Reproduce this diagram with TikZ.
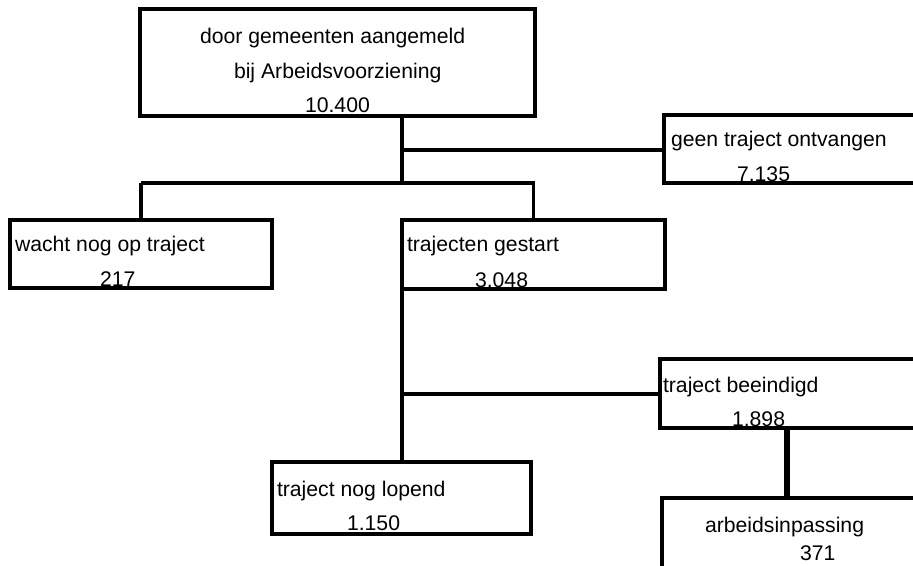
\documentclass[tikz,border=0pt]{standalone}
\usepackage{fontspec}
\setmainfont{Liberation Sans}
\newlength{\du}
\setlength{\du}{0.75pt}
\tikzset{
  box/.style={draw=black, line width=2.4pt, fill=white, outer sep=0pt, inner sep=0pt},
  heavy/.style={draw=black, line width=3.6pt},
  conn/.style={draw=black, line width=2.4pt},
  lbl/.style={inner sep=0pt, outer sep=0pt, anchor=base west, font=\fontsize{15.9}{19}\selectfont}
}

\begin{document}
\begin{tikzpicture}
\pgftransformxscale{1.000000}
\pgftransformyscale{-1.000000}
\clip (0\du,0\du) rectangle (913\du,566\du);
\fill[white] (0\du,0\du) rectangle (913\du,566\du);
% boxes
\node[box, minimum width=395\du, minimum height=107\du] (aangemeld) at (337.5\du,62.5\du) {};
\node[box, minimum width=336\du, minimum height=68\du] (geen) at (832\du,149\du) {};
\node[box, minimum width=262\du, minimum height=68\du] (wacht) at (141\du,254\du) {};
\node[box, minimum width=263\du, minimum height=69\du] (gestart) at (533.5\du,254.5\du) {};
\node[box, minimum width=340\du, minimum height=69\du] (beeindigd) at (830\du,393.5\du) {};
\node[box, minimum width=259\du, minimum height=72\du] (lopend) at (401.5\du,498\du) {};
\node[box, minimum width=338\du, minimum height=102\du] (inpassing) at (831\du,549\du) {};
% heavier sides
\draw[heavy] (aangemeld.north west)--(aangemeld.south west)--(aangemeld.south east);
\draw[heavy] (geen.south east)--(geen.south west)--(geen.north west)--(geen.north east);
\draw[heavy] (wacht.north west)--(wacht.south west)--(wacht.south east)--(wacht.north east);
\draw[heavy] (gestart.north west)--(gestart.south west)--(gestart.south east)--(gestart.north east);
\draw[heavy] (beeindigd.north west)--(beeindigd.north east);
\draw[heavy] (beeindigd.south west)--(beeindigd.south east);
\draw[heavy] (lopend.north west)--(lopend.south west)--(lopend.south east)--(lopend.north east)--cycle;
\draw[heavy] (inpassing.south west)--(inpassing.north west)--(inpassing.north east);
% texts
\node[lbl] (aangemeld-a) at (200\du,44\du) {door gemeenten aangemeld};
\node[lbl] (aangemeld-b) at (234\du,79\du) {bij Arbeidsvoorziening};
\node[lbl] (aangemeld-n) at (305\du,113\du) {10.400};
\node[lbl] (geen-a) at (671\du,147\du) {geen traject ontvangen};
\node[lbl] (geen-n) at (737\du,182\du) {7.135};
\node[lbl] (wacht-a) at (15\du,252\du) {wacht nog op traject};
\node[lbl] (wacht-n) at (100\du,287\du) {217};
\node[lbl] (gestart-a) at (407\du,252\du) {trajecten gestart};
\node[lbl] (gestart-n) at (475\du,288\du) {3.048};
\node[lbl] (beeindigd-a) at (663\du,392\du) {traject beeindigd};
\node[lbl] (beeindigd-n) at (732\du,426\du) {1.898};
\node[lbl] (lopend-a) at (277\du,496\du) {traject nog lopend};
\node[lbl] (lopend-n) at (347\du,530\du) {1.150};
\node[lbl] (inpassing-a) at (705\du,532\du) {arbeidsinpassing};
\node[lbl] (inpassing-n) at (800\du,560\du) {371};
% connectors
\coordinate (split1) at (402\du,150\du);
\coordinate (split2) at (402\du,183\du);
\coordinate (split3) at (402\du,394\du);
\coordinate (drop) at (787\du,460\du);
\draw[conn] (aangemeld.south -| split1)--(split2);
\draw[conn] (split1)--(split1 -| geen.west);
\draw[conn] (wacht.north |- split2)--(split2 -| gestart.north)--(gestart.north);
\draw[heavy] (wacht.north |- split2)--(wacht.north);
\draw[conn] (gestart.south west)--(gestart.south west |- lopend.north);
\draw[conn] (split3)--(split3 -| beeindigd.west);
\draw[heavy, line width=4.5pt] (beeindigd.south -| drop)--(inpassing.north -| drop);
\end{tikzpicture}
\end{document}
